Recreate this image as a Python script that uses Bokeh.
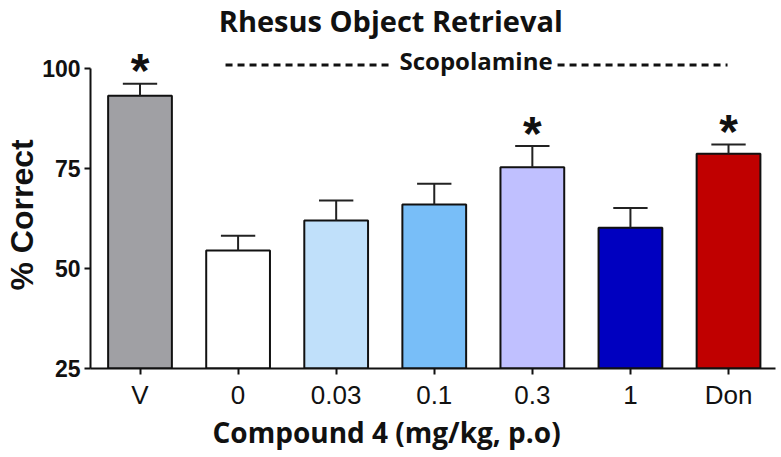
from bokeh.plotting import figure
from bokeh.models import Label, FixedTicker, ColumnDataSource, Title
from bokeh.core.properties import value
from bokeh.embed import file_html
from bokeh.resources import INLINE

# ---- data ----
categories = ["V", "0", "0.03", "0.1", "0.3", "1", "Don"]
means = [93.2, 54.5, 62.0, 66.0, 75.3, 60.2, 78.7]
sems = [3.0, 3.7, 5.0, 5.2, 5.3, 4.9, 2.3]
significant = [True, False, False, False, True, False, True]
bar_colors = ["#A0A0A4", "#FFFFFF", "#C0E0FA", "#78BEF8", "#C0C0FF", "#0000C0", "#C00000"]
y_ticks = [25, 50, 75, 100]
title_text = "Rhesus Object Retrieval"
x_label = "Compound 4 (mg/kg, p.o)"
y_label = "% Correct"
bracket_label = "Scopolamine"

# ---- derived ----
xs = list(range(len(categories)))
tops = [m + s for m, s in zip(means, sems)]
src = ColumnDataSource(dict(x=xs, mean=means, top=tops, color=bar_colors, cat=categories))
sig_x = [x for x, s in zip(xs, significant) if s]
sig_y = [t for t, s in zip(tops, significant) if s]

p = figure(width=781, height=457, x_range=(-0.5047, 6.479), y_range=(25, 117),
           output_backend="svg", toolbar_location=None,
           min_border_left=90, min_border_right=6, min_border_top=0, min_border_bottom=89)
p.outline_line_color = None
p.xgrid.grid_line_color = None
p.ygrid.grid_line_color = None
p.background_fill_color = "white"

# bars
p.vbar(x="x", top="mean", bottom=25, width=0.65, fill_color="color",
       line_color="#111111", line_width=2, source=src)

# error bars
cap = 0.175
p.segment(x0="x", y0="mean", x1="x", y1="top", line_color="#222222", line_width=2, source=src)
p.segment(x0=[x - cap for x in xs], y0=tops, x1=[x + cap for x in xs], y1=tops,
          line_color="#222222", line_width=2)

# significance stars
p.text(x=sig_x, y=sig_y, text=["*"] * len(sig_x), text_font=value("Liberation Sans"),
       text_font_style="bold", text_font_size="48px", text_align="center",
       text_baseline="alphabetic", y_offset=-13, text_color="#111111")

# scopolamine bracket
p.segment(x0=[0.872, 4.257], y0=[100.9, 100.9], x1=[2.585, 5.99], y1=[100.9, 100.9],
          line_color="#111111", line_width=3, line_dash="7 5")
p.add_layout(Label(x=3.426, y=101.9, text=bracket_label, text_font="Open Sans",
                   text_font_style="bold", text_font_size="24px", text_align="center",
                   text_baseline="alphabetic", text_color="#111111"))

# chart title (inside the frame area, above the bars)
p.add_layout(Label(x=2.557, y=111.9, text=title_text, text_font="Open Sans",
                   text_font_style="bold", text_font_size="29px", text_align="center",
                   text_baseline="alphabetic", text_color="#111111"))

# axis titles as side-panel titles
p.add_layout(Title(text=x_label, align="left", offset=122, vertical_align="top",
                   standoff=0, text_font="Open Sans", text_font_style="bold",
                   text_font_size="28px", text_color="#111111"), "below")
p.add_layout(Title(text=y_label, align="left", offset=78, vertical_align="bottom",
                   standoff=0, text_font="Liberation Sans", text_font_style="bold",
                   text_font_size="32px", text_color="#111111"), "left")

# axes
xa = p.xaxis[0]
xa.ticker = FixedTicker(ticks=xs)
xa.major_label_overrides = {x: c for x, c in zip(xs, categories)}
xa.axis_line_width = 2
xa.axis_line_color = "#111111"
xa.major_tick_line_width = 2
xa.major_tick_line_color = "#111111"
xa.major_tick_out = 6
xa.major_tick_in = 0
xa.minor_tick_line_color = None
xa.major_label_text_font = "Liberation Sans"
xa.major_label_text_font_size = "26px"
xa.major_label_text_color = "#111111"
xa.major_label_standoff = 5

ya = p.yaxis[0]
ya.ticker = FixedTicker(ticks=y_ticks)
ya.bounds = (25, 100)
ya.axis_line_width = 2
ya.axis_line_color = "#111111"
ya.major_tick_line_width = 2
ya.major_tick_line_color = "#111111"
ya.major_tick_out = 6
ya.major_tick_in = 0
ya.minor_tick_line_color = None
ya.major_label_text_font = "Liberation Sans"
ya.major_label_text_font_style = "bold"
ya.major_label_text_font_size = "23px"
ya.major_label_text_color = "#111111"
ya.major_label_standoff = 4

open("out.html", "w").write(file_html(p, INLINE))
